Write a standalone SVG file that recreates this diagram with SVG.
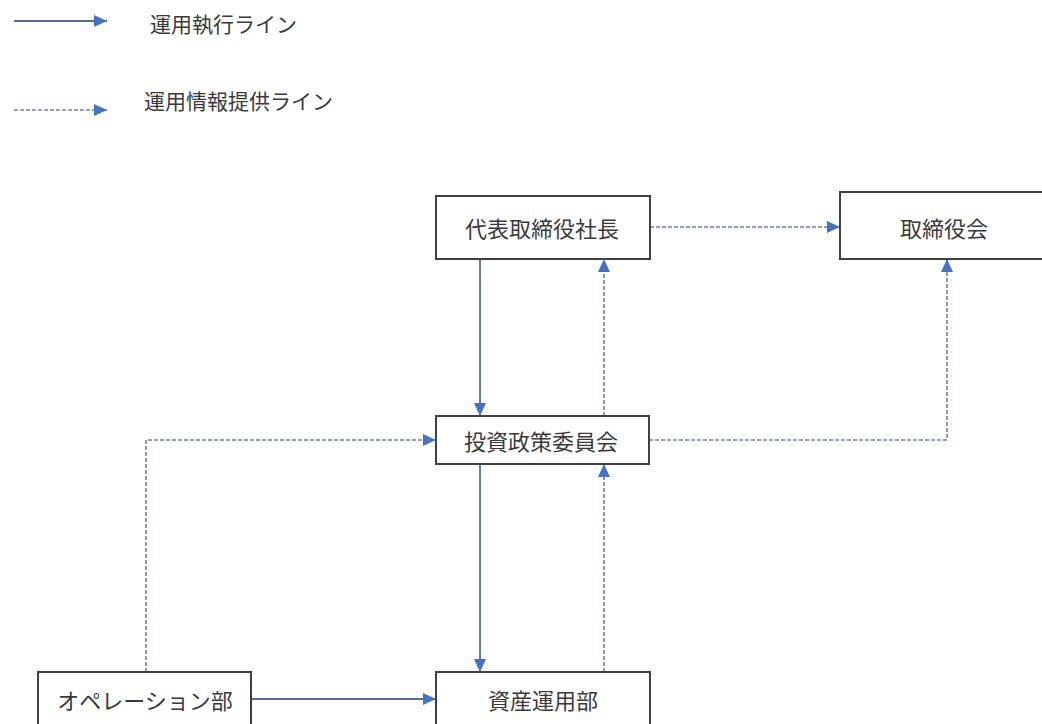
<svg xmlns="http://www.w3.org/2000/svg" width="1042" height="724" viewBox="0 0 1042 724">
<style>
.box{fill:#ffffff;stroke:#404040;stroke-width:2}
.lbl{font-family:"Noto Sans CJK JP","Noto Sans CJK SC",sans-serif;font-size:22px;fill:#3a3a3a;text-anchor:middle;dominant-baseline:central}
.leg{font-family:"Noto Sans CJK JP","Noto Sans CJK SC",sans-serif;font-size:21px;fill:#3a3a3a;dominant-baseline:central}
.solid{fill:none;stroke:#4f6fa3;stroke-width:1.8;marker-end:url(#ah)}
.dash{fill:none;stroke:#6f82a3;stroke-width:1.6;stroke-dasharray:4 2;marker-end:url(#ah)}
</style>
<defs>
<marker id="ah" markerUnits="userSpaceOnUse" markerWidth="14" markerHeight="12" refX="13" refY="6" orient="auto">
<path d="M0,0 L13,6 L0,12 z" fill="#4472c4"/>
</marker>
</defs>
<rect width="1042" height="724" fill="#ffffff"/>
<g id="legend">
<path class="solid" d="M14,21 H107"/>
<text class="leg" x="150" y="23">運用執行ライン</text>
<path class="dash" d="M14,110 H107"/>
<text class="leg" x="144" y="100">運用情報提供ライン</text>
</g>
<g id="connectors">
<path class="solid" d="M480,259 V416"/>
<path class="dash" d="M604,416 V259"/>
<path class="dash" d="M650,227 H840"/>
<path class="dash" d="M649,440 H947 V259"/>
<path class="dash" d="M146,672 V440 H436"/>
<path class="solid" d="M480,464 V672"/>
<path class="dash" d="M604,672 V464"/>
<path class="solid" d="M251,699 H436"/>
</g>
<g id="president">
<rect class="box" x="436" y="196" width="214" height="63"/>
<text class="lbl" x="542" y="227">代表取締役社長</text>
</g>
<g id="board">
<rect class="box" x="840" y="192" width="220" height="67"/>
<text class="lbl" x="944" y="227">取締役会</text>
</g>
<g id="committee">
<rect class="box" x="436" y="416" width="213" height="48"/>
<text class="lbl" x="541" y="440">投資政策委員会</text>
</g>
<g id="operations">
<rect class="box" x="38" y="672" width="213" height="70"/>
<text class="lbl" x="145" y="699">オペレーション部</text>
</g>
<g id="asset-management">
<rect class="box" x="436" y="672" width="214" height="70"/>
<text class="lbl" x="543" y="699">資産運用部</text>
</g>
</svg>
